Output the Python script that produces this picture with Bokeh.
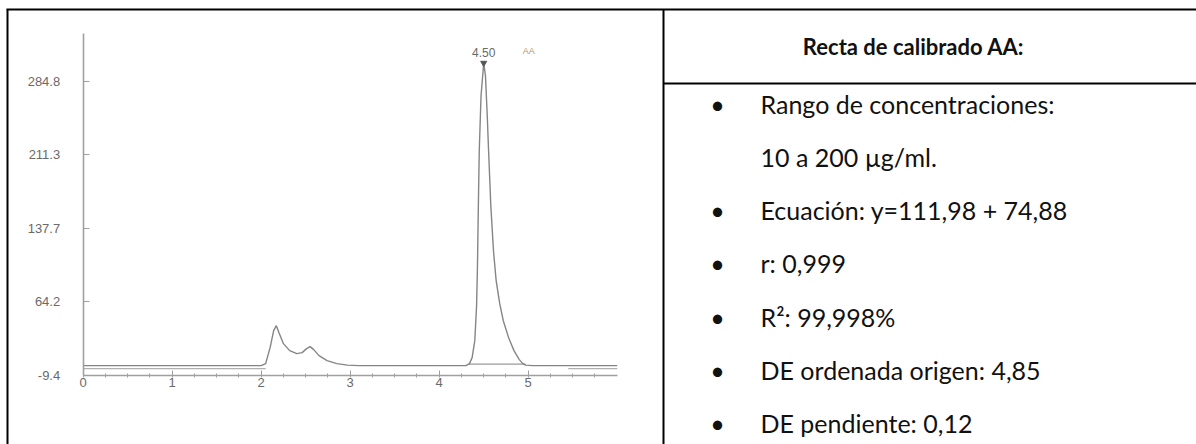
from bokeh.plotting import figure
from bokeh.models import LinearAxis, FixedTicker, Range1d, PrintfTickFormatter, ColumnDataSource
from bokeh.core.properties import value
from bokeh.embed import file_html
from bokeh.resources import INLINE

# ---- chromatogram (retention time in min, detector signal) ----
time_min = [0.00, 1.00, 2.00, 2.05, 2.10, 2.14, 2.17, 2.20, 2.25, 2.32, 2.40, 2.46,
            2.51, 2.55, 2.59, 2.65, 2.74, 2.85, 2.97, 3.10, 4.00, 4.30, 4.34, 4.37,
            4.40, 4.42, 4.43, 4.44, 4.45, 4.47, 4.50, 4.52, 4.54, 4.555, 4.58, 4.61,
            4.64, 4.68, 4.72, 4.78, 4.84, 4.90, 4.94, 4.97, 5.05, 6.00]
signal = [0.0, 0.0, 0.0, 2.0, 18.0, 35.0, 40.0, 33.0, 22.0, 15.0, 12.0, 13.0,
          17.0, 19.0, 16.0, 10.0, 5.0, 2.0, 0.5, 0.0, 0.0, 0.0, 2.0, 8.0,
          25.0, 60.0, 100.0, 160.0, 215.0, 270.0, 303.0, 290.0, 250.0, 215.0, 160.0, 115.0,
          85.0, 62.0, 45.0, 28.0, 15.0, 6.0, 2.0, 0.5, 0.0, 0.0]

# reference trace segments below the signal baseline
ref_t0 = [0.00, 5.45]
ref_t1 = [2.05, 6.00]
ref_level = [-3.0, -3.0]

# integration baseline of the main peak
integ_t0 = [4.33]
integ_t1 = [4.97]
integ_level = [1.5]

peak_rt = [4.50]
peak_height = [303.0]
peak_label = ["4.50"]
compound = ["AA"]

y_ticks = [-9.4, 64.2, 137.7, 211.3, 284.8]
x_ticks = [0, 1, 2, 3, 4, 5]
x_minor = [0.25, 0.5, 0.75, 1.25, 1.5, 1.75, 2.25, 2.5, 2.75, 3.25, 3.5, 3.75,
           4.25, 4.5, 4.75, 5.25, 5.5, 5.75]

# ---- calibration summary ----
header = "Recta de calibrado AA:"
items = [
    ("•", "Rango de concentraciones:"),
    ("", "10 a 200 µg/ml."),
    ("•", "Ecuación: y=111,98 + 74,88"),
    ("•", "r: 0,999"),
    ("•", "R²: 99,998%"),
    ("•", "DE ordenada origen: 4,85"),
    ("•", "DE pendiente: 0,12"),
]

W, H = 1196, 444
# data window of the chromatogram spread over the whole canvas
X0_PX, PX_PER_MIN = 82.7, 89.0
Y_AX_PX, PX_PER_UNIT = 374.5, 0.9986
x_lo = -X0_PX / PX_PER_MIN
x_hi = (W - X0_PX) / PX_PER_MIN
y_hi = Y_AX_PX / PX_PER_UNIT - 9.4
y_lo = -9.4 - (H - Y_AX_PX) / PX_PER_UNIT

p = figure(width=W, height=H, x_range=Range1d(x_lo, x_hi), y_range=Range1d(y_lo, y_hi),
           x_axis_type=None, y_axis_type=None, output_backend="svg",
           toolbar_location=None, min_border=0, outline_line_color=None,
           background_fill_color="white", border_fill_color="white")
p.min_border_left = p.min_border_right = p.min_border_top = p.min_border_bottom = 0
p.extra_x_ranges = {"px": Range1d(0, W)}
p.extra_y_ranges = {"px": Range1d(H, 0)}

axis_col = "#a0a0a0"
lab_col = "#6a6a6a"
tick_font_name = "Liberation Sans"
tick_font = value(tick_font_name)

yaxis = LinearAxis(fixed_location=0, bounds=(-9.4, 333.0),
                   ticker=FixedTicker(ticks=y_ticks, minor_ticks=[]),
                   formatter=PrintfTickFormatter(format="%.1f"),
                   axis_line_color=axis_col, axis_line_width=1.6,
                   major_tick_line_color=axis_col, major_tick_in=6, major_tick_out=0,
                   minor_tick_line_color=None,
                   major_label_standoff=23, major_label_text_font=tick_font_name,
                   major_label_text_font_size="13px", major_label_text_color=lab_col)
p.add_layout(yaxis, "left")

xaxis = LinearAxis(fixed_location=-9.4, bounds=(0, 6.0),
                   ticker=FixedTicker(ticks=x_ticks, minor_ticks=x_minor),
                   axis_line_color=axis_col, axis_line_width=1.6,
                   major_tick_line_color=axis_col, major_tick_in=5, major_tick_out=2,
                   minor_tick_line_color=axis_col, minor_tick_in=2, minor_tick_out=2,
                   major_label_standoff=1, major_label_text_font=tick_font_name,
                   major_label_text_font_size="13px", major_label_text_color=lab_col)
p.add_layout(xaxis, "below")

trace_col = "#858585"
p.segment(x0=ref_t0, y0=ref_level, x1=ref_t1, y1=ref_level, line_color="#b0b0b0", line_width=1.4)
p.segment(x0=integ_t0, y0=integ_level, x1=integ_t1, y1=integ_level, line_color="#9a9a9a", line_width=1.2)
p.line(time_min, signal, line_color=trace_col, line_width=1.4)

p.scatter(peak_rt, peak_height, marker="inverted_triangle", size=6, color="#555555")
p.text(peak_rt, peak_height, text=peak_label, y_offset=-6, text_align="center",
       text_baseline="bottom", text_font=tick_font, text_font_size="12px", text_color=lab_col)
p.text(peak_rt, peak_height, text=compound, x_offset=45, y_offset=-7, text_align="center",
       text_baseline="bottom", text_font=tick_font, text_font_size="9px", text_color="#c0935e")

# ---- table frame ----
p.segment(x0=[6, 7, 663, 663], y0=[9, 9, 9, 83], x1=[1196, 7, 663, 1196], y1=[9, 444, 444, 83],
          line_color="black", line_width=2, x_range_name="px", y_range_name="px")

body_font = value("Lato")
p.text([913], [46], text=[header], text_align="center", text_baseline="middle",
       text_font=body_font, text_font_style="bold", text_font_size="22px", text_color="#111111",
       x_range_name="px", y_range_name="px")

line_y = [103 + 53.3 * i for i in range(len(items))]
src = ColumnDataSource(dict(
    bx=[717] * len(items), tx=[760] * len(items), y=line_y,
    bullet=[b for b, _ in items], txt=[t for _, t in items]))
p.text("bx", "y", text="bullet", source=src, text_align="center", text_baseline="middle",
       text_font=body_font, text_font_size="25px", text_color="#111111",
       x_range_name="px", y_range_name="px")
p.text("tx", "y", text="txt", source=src, text_align="left", text_baseline="middle",
       text_font=body_font, text_font_size="25px", text_color="#111111",
       x_range_name="px", y_range_name="px")

open("out.html", "w").write(file_html(p, INLINE))
